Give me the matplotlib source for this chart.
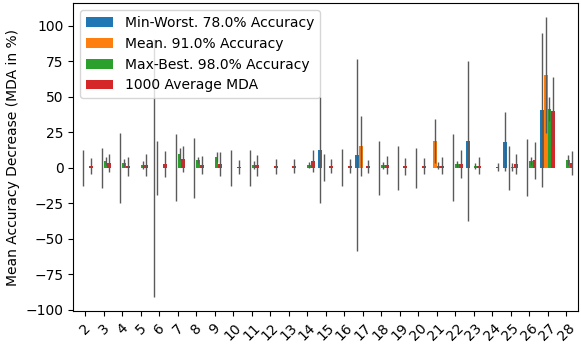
import matplotlib
matplotlib.use("Agg")
import matplotlib.pyplot as plt
import pandas as pd

features = [str(i) for i in range(2, 29)]

# bar heights (MDA in %), one entry per feature 2..28
#            2    3    4    5    6    7    8    9   10   11   12   13   14
min_worst = [0,   0,   0,   0,   0,   0,   0,   0,   0,   0,   0,   0,   0,
             12.5, 0, 9.0, 0, 0, 0, 0, 0, 18.8, 0, 18.5, 0, 40.7, 0]
#            15  16   17  18 19 20 21 22  23  24  25  26  27  28
mean_ = [0, 0, 0, 0, 0, 0, 0, 0, 0, 0, 0, 0, 0,
         0, 0, 15.5, 0, 0, 0, 18.8, 0, 0, 0, 0, 0, 65.4, 0]
max_best = [0, 4.7, 3.3, 1.9, 0, 9.7, 5.4, 7.6, 0, 1.9, 0, 0, 1.9,
            0, 0, 0, 1.9, 0, 0, 1.4, 2.6, 1.4, 0, 0.5, 4.7, 41.4, 5.4]
avg_1000 = [1.2, 3.3, 1.2, 1.9, 2.7, 6.1, 1.9, 2.6, 0.6, 1.9, 1.0, 1.2, 4.7,
            1.2, 1.2, 1.2, 1.9, 1.2, 1.2, 1.4, 2.6, 1.4, 0.5, 2.6, 5.4, 40.0, 3.3]

# error bar half-lengths
min_worst_err = [0, 0, 0, 0, 91, 0, 0, 0, 0, 0, 0, 0, 0,
                 37.5, 0, 67.3, 0, 0, 0, 0, 0, 56.5, 0, 21, 0, 54.3, 0]
mean_err = [12.5, 14, 24.7, 0, 18.8, 23.5, 21, 0, 12.5, 12.5, 0, 0, 0,
            9.4, 13, 21, 18.8, 15.5, 14, 15.5, 23.5, 0, 0, 15.7, 20, 40.7, 0]
max_best_err = [0, 2.6, 2.6, 2.6, 0, 4, 2, 3.3, 0, 2.6, 0, 0, 2.3,
                0, 0, 0, 2.5, 0, 0, 2.5, 2, 2, 0, 2.7, 2.8, 8.6, 3.3]
avg_1000_err = [5.6, 6.3, 6.7, 7.9, 9, 9.4, 6.1, 8.4, 5, 7.4, 5.2, 5, 7.6,
                5, 4.8, 4.6, 6.5, 6, 5.6, 5.9, 9.7, 6, 3, 7.2, 13, 24.2, 8.7]

labels = ["Min-Worst. 78.0% Accuracy", "Mean. 91.0% Accuracy",
          "Max-Best. 98.0% Accuracy", "1000 Average MDA"]

df = pd.DataFrame(dict(zip(labels, [min_worst, mean_, max_best, avg_1000])),
                  index=features)
df_err = pd.DataFrame(dict(zip(labels, [min_worst_err, mean_err, max_best_err, avg_1000_err])),
                      index=features)

fig, ax = plt.subplots(figsize=(5.81, 3.46), dpi=100)
df.plot.bar(ax=ax, yerr=df_err, rot=45, width=0.8,
            error_kw=dict(ecolor="#5a5a5a", elinewidth=1.0, capsize=0))
ax.set_ylabel("Mean Accuracy Decrease (MDA in %)")
ax.legend(loc="upper left")

fig.subplots_adjust(left=0.126, right=0.995, top=0.991, bottom=0.101)
fig.savefig("out.png", dpi=100)
